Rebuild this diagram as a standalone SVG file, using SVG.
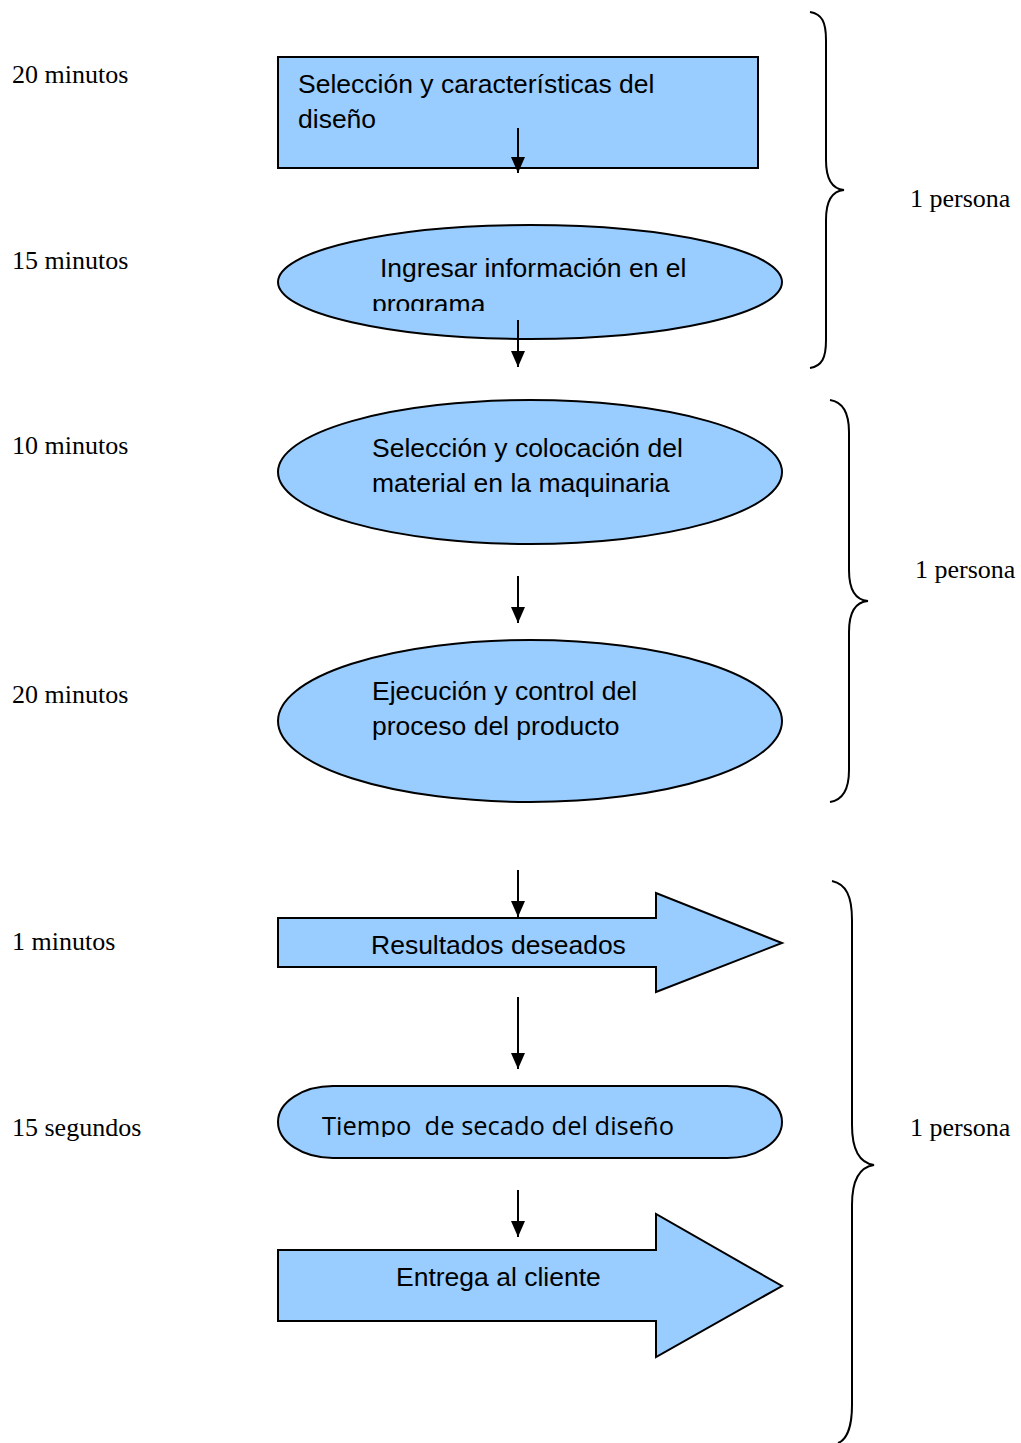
<svg xmlns="http://www.w3.org/2000/svg" width="1021" height="1443" viewBox="0 0 1021 1443">
<defs>
<style>
.shape{fill:#99CCFF;stroke:#000;stroke-width:2}
.lbl{font-family:"Liberation Sans",Arial,sans-serif;font-size:26.5px;fill:#000}
.lbl2{font-family:"Open Sans","Liberation Sans",sans-serif;font-size:25.5px;fill:#000;white-space:pre}
.side{font-family:"Liberation Serif","Times New Roman",serif;font-size:26px;fill:#000}
.conn{stroke:#000;stroke-width:2;fill:none}
.brace{stroke:#000;stroke-width:2;fill:none}
</style>
<marker id="ah2" viewBox="0 0 16 16" refX="16" refY="8" markerWidth="16" markerHeight="16" markerUnits="userSpaceOnUse" orient="auto"><path d="M0,1 L16,8 L0,15 z" fill="#000"/></marker>
<clipPath id="clip2"><rect x="270" y="220" width="520" height="91"/></clipPath>
<clipPath id="clip6"><rect x="270" y="1080" width="520" height="57"/></clipPath>
</defs>

<g id="n1">
<rect class="shape" x="278" y="57" width="480" height="111"/>
<text class="lbl" x="298" y="93">Selección y características del</text>
<text class="lbl" x="298" y="128">diseño</text>
</g>
<g id="n2">
<ellipse class="shape" cx="530" cy="282" rx="252" ry="57"/>
<g clip-path="url(#clip2)">
<text class="lbl" x="380" y="277">Ingresar información en el</text>
<text class="lbl" x="372" y="313">programa</text>
</g>
</g>
<g id="n3">
<ellipse class="shape" cx="530" cy="472" rx="252" ry="72"/>
<text class="lbl" x="372" y="457">Selección y colocación del</text>
<text class="lbl" x="372" y="492">material en la maquinaria</text>
</g>
<g id="n4">
<ellipse class="shape" cx="530" cy="721" rx="252" ry="81"/>
<text class="lbl" x="372" y="700">Ejecución y control del</text>
<text class="lbl" x="372" y="735">proceso del producto</text>
</g>
<g id="n5">
<path class="shape" d="M278,918 L656,918 L656,893 L782,943 L656,992 L656,967 L278,967 Z"/>
<text class="lbl" x="371" y="954">Resultados deseados</text>
</g>
<g id="n6">
<rect class="shape" x="278" y="1086" width="504" height="72" rx="55" ry="36"/>
<g clip-path="url(#clip6)">
<text class="lbl2" x="322" y="1135" xml:space="preserve">Tiempo  de secado del diseño</text>
</g>
</g>
<g id="n7">
<path class="shape" d="M278,1250 L656,1250 L656,1214 L782,1286 L656,1357 L656,1321 L278,1321 Z"/>
<text class="lbl" x="396" y="1286">Entrega al cliente</text>
</g>

<g id="connectors">
<line class="conn" x1="518" y1="128" x2="518" y2="173" marker-end="url(#ah2)"/>
<line class="conn" x1="518" y1="320" x2="518" y2="367" marker-end="url(#ah2)"/>
<line class="conn" x1="518" y1="576" x2="518" y2="623" marker-end="url(#ah2)"/>
<line class="conn" x1="518" y1="870" x2="518" y2="917" marker-end="url(#ah2)"/>
<line class="conn" x1="518" y1="997" x2="518" y2="1069" marker-end="url(#ah2)"/>
<line class="conn" x1="518" y1="1190" x2="518" y2="1237" marker-end="url(#ah2)"/>
</g>

<g id="braces">
<path class="brace" d="M810,12 C822,14 826,22 826,40 L826,160 C826,180 832,189 844,190 C832,191 826,200 826,220 L826,340 C826,358 822,366 810,368"/>
<path class="brace" d="M830,400 C843,402 849,412 849,432 L849,570 C849,590 855,600 868,601 C855,602 849,612 849,632 L849,770 C849,790 843,800 830,802"/>
<path class="brace" d="M832,881 C846,884 852,896 852,920 L852,1125 C852,1150 860,1163 874,1165 C860,1167 852,1180 852,1205 L852,1405 C852,1428 846,1440 838,1443"/>
</g>

<g id="labels">
<text class="side" x="12" y="83">20 minutos</text>
<text class="side" x="12" y="269">15 minutos</text>
<text class="side" x="12" y="454">10 minutos</text>
<text class="side" x="12" y="703">20 minutos</text>
<text class="side" x="12" y="950">1 minutos</text>
<text class="side" x="12" y="1136">15 segundos</text>
<text class="side" x="910" y="207">1 persona</text>
<text class="side" x="915" y="578">1 persona</text>
<text class="side" x="910" y="1136">1 persona</text>
</g>
</svg>
